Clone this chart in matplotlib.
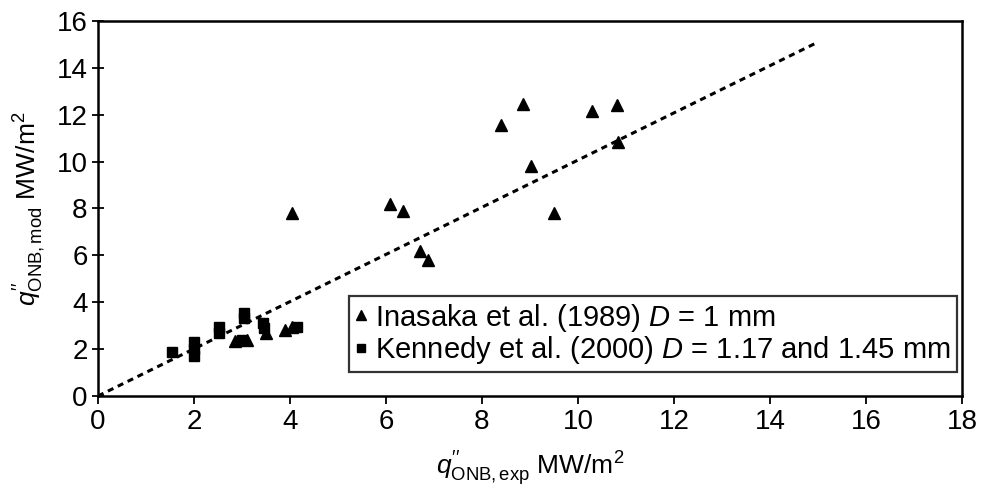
import matplotlib
matplotlib.use("Agg")
from matplotlib import pyplot as plt

plt.rcParams['font.family'] = ['Liberation Sans', 'DejaVu Sans']
plt.rcParams['mathtext.fontset'] = 'custom'
plt.rcParams['mathtext.rm'] = 'Liberation Sans'
plt.rcParams['mathtext.it'] = 'Liberation Sans:italic'

# Inasaka et al. (1989), D = 1 mm
inasaka_exp = [8.85, 8.40, 10.29, 10.81, 10.83, 9.02, 6.08, 6.36, 9.50, 6.71, 6.87,
               4.05, 2.85, 3.10, 3.50, 3.90, 4.04]
inasaka_mod = [12.46, 11.56, 12.16, 12.41, 10.84, 9.81, 8.19, 7.89, 7.80, 6.19, 5.80,
               7.79, 2.35, 2.40, 2.70, 2.80, 2.95]

# Kennedy et al. (2000), D = 1.17 and 1.45 mm
kennedy_exp = [1.55, 2.0, 2.0, 2.0, 2.53, 2.53, 3.0, 3.04, 3.04, 3.44, 3.46, 4.14]
kennedy_mod = [1.89, 2.3, 2.0, 1.7, 2.96, 2.67, 2.40, 3.53, 3.32, 3.10, 2.90, 2.95]

# 1:1 line
line_x = [0, 15]
line_y = [0, 15.1]

fig = plt.figure(figsize=(9.82, 4.94), dpi=100)
ax = fig.add_axes([0.0998, 0.1984, 0.8798, 0.7591])

ax.plot(line_x, line_y, color='black', lw=2.2, linestyle=(0, (2, 1.6)))
ax.plot(inasaka_exp, inasaka_mod, '^', color='black', markersize=9,
        label=r"Inasaka et al. (1989) $D$ = 1 mm")
ax.plot(kennedy_exp, kennedy_mod, 's', color='black', markersize=7.5,
        label=r"Kennedy et al. (2000) $D$ = 1.17 and 1.45 mm")

ax.set_xlim(0, 18)
ax.set_ylim(0, 16)
ax.set_xticks(range(0, 19, 2))
ax.set_yticks(range(0, 17, 2))
ax.tick_params(axis='both', labelsize=20, width=1.3, length=6)
ax.tick_params(axis='y', direction='inout', length=8)
for s in ax.spines.values():
    s.set_linewidth(1.8)

ax.set_xlabel(r"$q^{\prime\prime}_{\mathrm{ONB,exp}}$ MW/m$^2$", fontsize=19, labelpad=10)
ax.set_ylabel(r"$q^{\prime\prime}_{\mathrm{ONB,mod}}$ MW/m$^2$", fontsize=19, labelpad=6)

leg = ax.legend(loc='lower right', bbox_to_anchor=(0.994, 0.064), fontsize=21,
                frameon=True, fancybox=False, edgecolor='black', borderaxespad=0,
                handlelength=0.4, handletextpad=0.3, borderpad=0.2,
                labelspacing=0.02, markerscale=0.8)
leg.get_frame().set_linewidth(1.6)

plt.savefig('out.png', dpi=100)
